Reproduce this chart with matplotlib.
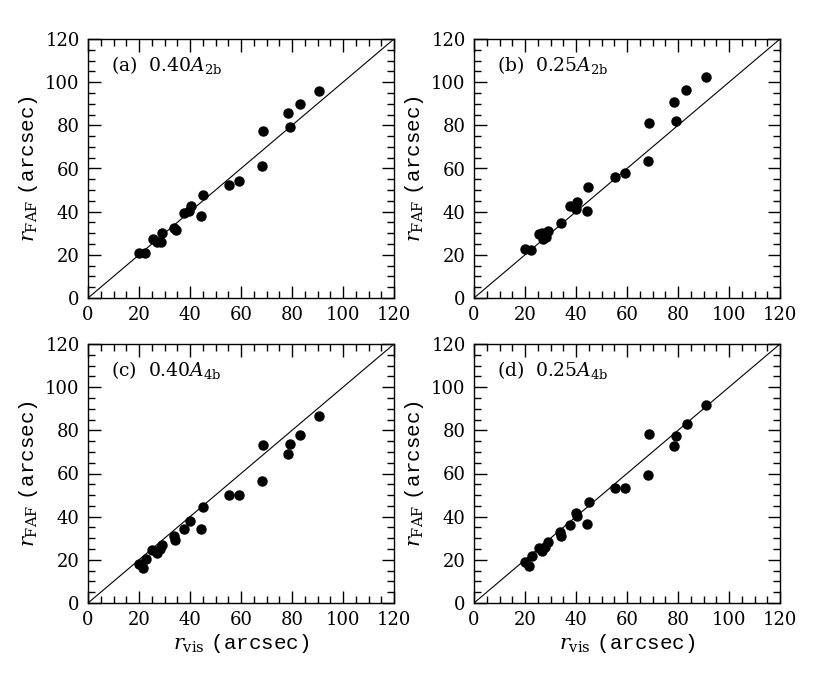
import matplotlib
matplotlib.use("Agg")
import matplotlib.pyplot as plt
from matplotlib.ticker import MultipleLocator

# panel (a) 0.40 A_2b
x_a = [20.0, 22.4, 25.4, 26.9, 28.6, 29.0, 33.9, 34.5, 37.5, 39.7, 40.4, 44.2, 45.0,
       55.3, 59.2, 68.2, 68.5, 78.6, 79.2, 83.1, 90.7]
y_a = [20.7, 20.7, 27.2, 25.8, 26.1, 30.0, 32.5, 31.5, 39.2, 40.5, 42.6, 38.0, 47.6,
       52.2, 54.1, 61.2, 77.5, 85.9, 79.4, 89.9, 95.9]

# panel (b) 0.25 A_2b
x_b = [20.0, 22.2, 25.4, 26.6, 27.2, 28.1, 29.0, 34.0, 37.7, 40.3, 39.9, 44.2, 44.9,
       55.4, 59.3, 68.2, 68.6, 78.6, 79.4, 83.3, 91.0]
y_b = [22.5, 22.2, 29.7, 30.3, 27.5, 28.4, 31.2, 34.9, 42.8, 44.6, 41.2, 40.5, 51.4,
       56.1, 57.9, 63.6, 81.2, 91.0, 82.2, 96.4, 102.4]

# panel (c) 0.40 A_4b
x_c = [20.0, 21.7, 22.6, 25.2, 26.9, 28.2, 29.0, 33.7, 34.0, 37.5, 40.1, 44.2, 45.0,
       55.3, 59.2, 68.2, 68.5, 78.6, 79.2, 83.1, 90.7]
y_c = [18.1, 16.4, 20.2, 24.6, 23.3, 24.9, 26.7, 30.9, 29.3, 34.1, 38.1, 34.4, 44.3,
       50.0, 50.0, 56.5, 73.2, 68.9, 73.7, 77.8, 86.8]

# panel (d) 0.25 A_4b
x_d = [20.0, 21.7, 22.7, 25.4, 26.8, 27.8, 29.0, 33.9, 34.0, 37.7, 40.0, 40.5, 44.2,
       45.0, 55.2, 59.3, 68.2, 68.6, 78.6, 79.4, 83.4, 91.0]
y_d = [19.2, 17.3, 21.9, 25.6, 24.1, 26.1, 28.4, 33.1, 31.0, 36.1, 41.5, 40.3, 36.6,
       47.0, 53.1, 53.1, 59.3, 78.3, 72.6, 77.4, 82.9, 91.6]

labels = [r"(a)  $0.40A_{\rm 2b}$", r"(b)  $0.25A_{\rm 2b}$",
          r"(c)  $0.40A_{\rm 4b}$", r"(d)  $0.25A_{\rm 4b}$"]

plt.rcParams["font.family"] = "DejaVu Serif"
plt.rcParams["mathtext.fontset"] = "custom"
plt.rcParams["mathtext.rm"] = "DejaVu Serif"
plt.rcParams["mathtext.it"] = "DejaVu Serif:italic"
plt.rcParams["mathtext.bf"] = "DejaVu Serif:bold"
plt.rcParams["mathtext.tt"] = "Liberation Mono"

fig = plt.figure(figsize=(8.3, 6.96), dpi=100)

W, H = 830.0, 696.0
boxes = [(88, 39), (474, 39), (88, 344), (474, 344)]
data = [(x_a, y_a), (x_b, y_b), (x_c, y_c), (x_d, y_d)]

for i, ((left, top), (xs, ys)) in enumerate(zip(boxes, data)):
    ax = fig.add_axes([left / W, 1 - (top + 259) / H, 306 / W, 259 / H])
    ax.plot([0, 120], [0, 120], color="black", lw=0.8)
    ax.plot(xs, ys, "o", color="black", markersize=6.5)
    ax.set_xlim(0, 120)
    ax.set_ylim(0, 120)
    ax.xaxis.set_major_locator(MultipleLocator(20))
    ax.yaxis.set_major_locator(MultipleLocator(20))
    ax.xaxis.set_minor_locator(MultipleLocator(5))
    ax.yaxis.set_minor_locator(MultipleLocator(5))
    ax.tick_params(which="both", direction="in", top=True, right=True,
                   labelsize=13, width=1.0)
    ax.tick_params(which="major", length=9, pad=6)
    ax.tick_params(which="minor", length=5)
    for sp in ax.spines.values():
        sp.set_linewidth(1.0)
    ax.text(9, 108, labels[i], fontsize=13.5, va="center", ha="left")
    ax.set_ylabel(r"$r_{\rm FAF}$ $\mathtt{(arcsec)}$", fontsize=15, labelpad=4)
    if i >= 2:
        ax.set_xlabel(r"$r_{\rm vis}$ $\mathtt{(arcsec)}$", fontsize=15, labelpad=2)

fig.savefig("out.png", dpi=100)
